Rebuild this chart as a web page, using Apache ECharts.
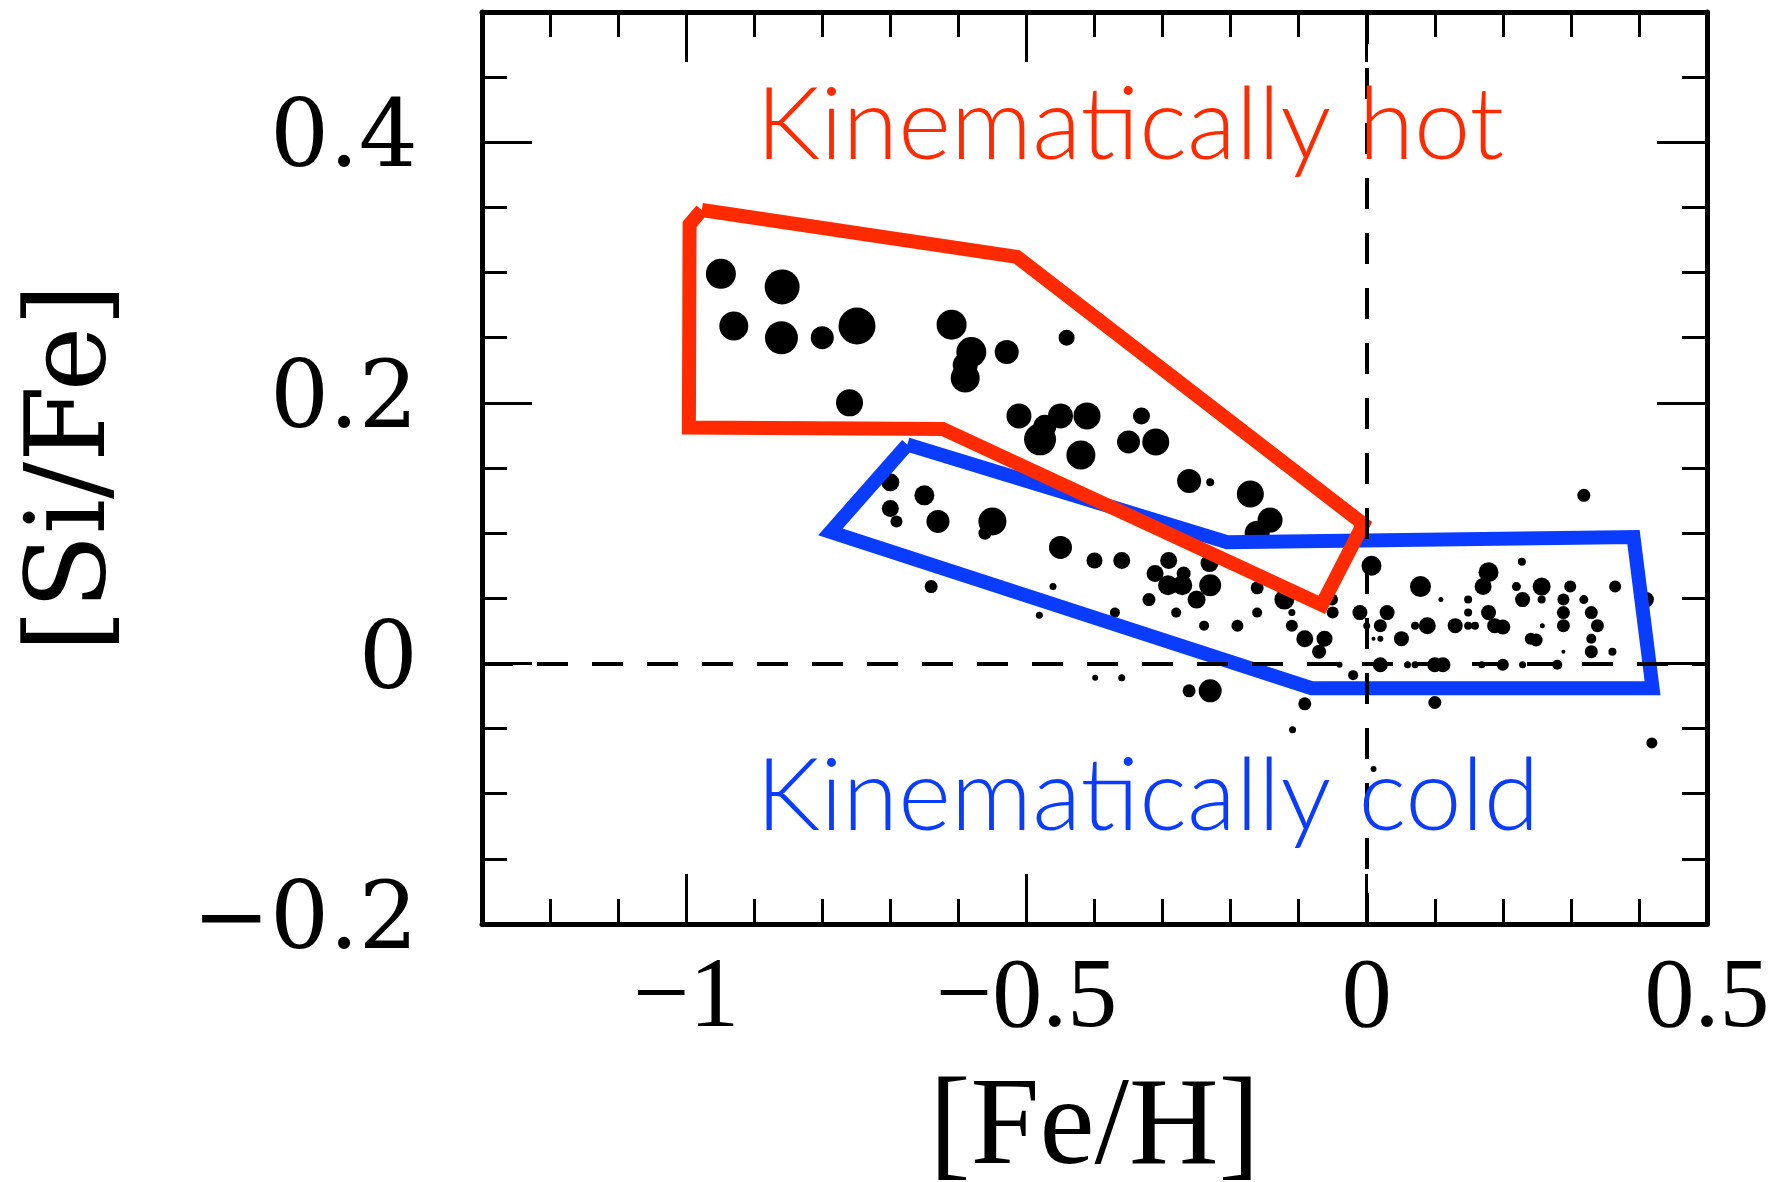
<!DOCTYPE html>
<html>
<head>
<meta charset="utf-8">
<script src="https://cdn.jsdelivr.net/npm/echarts@6/dist/echarts.min.js"></script>
<style>
html,body{margin:0;padding:0;background:#fff;}
#chart{width:1790px;height:1182px;}
</style>
</head>
<body>
<div id="chart"></div>
<script>
// ---- data ----
const feH = [
 -0.949,-0.859,-0.930,-0.860,-0.800,-0.749,-0.610,-0.581,-0.590,-0.590,-0.529,-0.760,-0.511,-0.441,-0.450,-0.480,-0.473,-0.411,-0.420,-0.331,-0.350,-0.310,-0.261,-0.230,-0.171,-0.142,-0.161,
 -0.700,-0.650,-0.700,-0.691,-0.630,-0.550,-0.561,-0.640,-0.450,-0.400,-0.360,-0.291,-0.231,-0.311,-0.269,-0.292,-0.271,-0.230,-0.250,-0.320,-0.280,-0.239,-0.190,-0.461,-0.481,-0.370,-0.161,-0.161,-0.121,-0.110,-0.110,-0.091,-0.062,-0.070,-0.050,-0.051,-0.399,-0.360,-0.261,-0.230,-0.091,-0.109,
 0.007,0.228,0.179,0.171,0.079,0.257,0.220,0.299,0.365,0.411,0.229,0.257,0.289,0.319,0.109,0.149,-0.010,0.030,0.149,0.179,0.289,0.330,0.000,0.020,0.071,0.089,0.130,0.149,0.159,0.188,0.200,0.258,0.289,0.339,0.010,0.020,0.051,0.241,0.249,0.330,0.289,0.330,0.361,-0.040,0.020,0.060,0.071,0.100,0.112,0.169,0.200,0.229,0.280,-0.020,0.100,0.419,0.010,0.319
];
const siFe = [
 0.299,0.289,0.259,0.250,0.250,0.259,0.260,0.239,0.229,0.219,0.239,0.200,0.190,0.250,0.190,0.172,0.182,0.190,0.160,0.190,0.170,0.170,0.140,0.139,0.130,0.110,0.100,
 0.139,0.129,0.119,0.109,0.109,0.109,0.100,0.059,0.089,0.079,0.079,0.079,0.077,0.069,0.069,0.060,0.060,0.060,0.049,0.049,0.039,0.029,0.029,0.059,0.037,0.039,0.058,0.039,0.049,0.039,0.029,0.019,0.019,0.009,0.039,0.049,-0.011,-0.011,-0.021,-0.021,-0.031,-0.051,
 0.075,0.078,0.070,0.059,0.059,0.059,0.059,0.059,0.059,0.049,0.049,0.049,0.049,0.049,0.049,0.049,0.039,0.039,0.039,0.039,0.039,0.039,0.029,0.029,0.029,0.029,0.029,0.029,0.029,0.029,0.028,0.029,0.029,0.029,0.019,0.019,0.019,0.019,0.018,0.019,0.009,0.009,0.009,-0.001,-0.001,-0.001,-0.001,-0.001,-0.001,-0.001,-0.001,-0.001,-0.001,-0.009,-0.030,-0.061,-0.081,0.129
];
const dotSize = [
 30,35,29,33,23,37,30,30,25,29,24,27,25,16,25,32,23,27,29,17,23,27,24,8,27,25,25,
 18,20,17,12,23,28,13,13,23,16,17,17,18,17,14,20,20,22,18,13,10,10,12,7,7,10,13,10,20,7,12,17,16,14,12,12,6,7,13,23,13,7,
 20,8,20,17,21,18,9,12,12,15,15,8,12,9,5,8,15,15,8,15,13,13,7,13,8,17,15,8,8,15,15,5,13,13,4,6,15,12,13,10,4,13,8,6,15,7,7,15,15,7,12,7,10,10,13,11,6,13
];
// region outlines
const hotFeH  = [-0.977,-0.514,-0.005,-0.066,-0.623,-0.996,-0.995,-0.977];
const hotSiFe = [ 0.348, 0.312, 0.107, 0.045, 0.180, 0.181, 0.337, 0.348];
const coldFeH  = [-0.675,-0.205,0.392, 0.420,-0.081,-0.788,-0.675];
const coldSiFe = [ 0.168, 0.093,0.097,-0.019,-0.019, 0.101, 0.168];
// axes
const xMajorTicks = [-1,-0.5,0,0.5];
const yMajorTicks = [-0.2,0,0.2,0.4];
const xTitle = '[Fe/H]';
const yTitle = '[Si/Fe]';
const hotLabel = 'Kinematically hot';
const coldLabel = 'Kinematically cold';

const RED = '#ff2a00', BLUE = '#0a3cff';
const fmt = v => (v < 0 ? '\u2212' : '') + String(Math.abs(Math.round(v*10)/10));

const points = feH.map((x,i)=>[x, siFe[i], dotSize[i]]);
const hotPoly = hotFeH.map((x,i)=>[x, hotSiFe[i]]);
const coldPoly = coldFeH.map((x,i)=>[x, coldSiFe[i]]);

const tickStyle = {color:'#000', width:3};
function xAx(pos, major, withName){
  const a = {
    type:'value', min:-1.3, max:0.5, position:pos, gridIndex:0,
    splitLine:{show:false},
    axisLine:{show:major, onZero:false, lineStyle:{color:'#000', width:5}},
    axisTick:{show:true, inside:true, length: major?50:25, lineStyle:tickStyle},
    axisLabel:{show:false}
  };
  if (major){
    a.axisTick.customValues = xMajorTicks;
    a.axisLabel = {show: pos==='bottom', customValues:xMajorTicks, formatter:fmt, margin:26,
      color:'#000', fontFamily:'Liberation Serif', fontSize:100};
  } else {
    a.interval = 0.1;
  }
  if (withName){
    a.name = xTitle; a.nameLocation='middle'; a.nameGap=144;
    a.nameTextStyle = {fontFamily:'Liberation Serif', fontSize:124, color:'#000'};
  }
  return a;
}
function yAx(pos, major, withName){
  const a = {
    type:'value', min:-0.2, max:0.5, position:pos, gridIndex:0,
    splitLine:{show:false},
    axisLine:{show:major, onZero:false, lineStyle:{color:'#000', width:5}},
    axisTick:{show:true, inside:true, length: major?50:25, lineStyle:tickStyle},
    axisLabel:{show:false}
  };
  if (major){
    a.axisTick.customValues = yMajorTicks;
    a.axisLabel = {show: pos==='left', customValues:yMajorTicks, formatter:fmt, margin:64,
      color:'#000', fontFamily:'DejaVu Serif', fontSize:93};
  } else {
    a.interval = 0.05;
  }
  if (withName){
    a.name = yTitle; a.nameLocation='middle'; a.nameGap=352; a.nameRotate=90;
    a.nameTextStyle = {fontFamily:'DejaVu Serif', fontSize:110, color:'#000'};
  }
  return a;
}

const chart = echarts.init(document.getElementById('chart'), null, {renderer:'canvas'});
chart.setOption({
  backgroundColor:'#fff',
  animation:false,
  grid:{left:482, right:83, top:12, bottom:258, outerBoundsMode:'none', containLabel:false},
  xAxis:[xAx('bottom',false,false), xAx('bottom',true,true), xAx('top',false,false), xAx('top',true,false)],
  yAxis:[yAx('left',false,false), yAx('left',true,true), yAx('right',false,false), yAx('right',true,false)],
  series:[
    {
      type:'scatter', xAxisIndex:0, yAxisIndex:0, z:2,
      data: points,
      symbol:'circle',
      symbolSize: d => d[2],
      itemStyle:{color:'#000', opacity:1},
      emphasis:{disabled:true},
      markLine:{
        silent:true, symbol:['none','none'], label:{show:false},
        lineStyle:{color:'#000', width:4, type:[31,24], opacity:1},
        emphasis:{disabled:true},
        data:[{xAxis:0},{yAxis:0}]
      }
    },
    {
      type:'line', xAxisIndex:0, yAxisIndex:0, z:3,
      data: coldPoly, symbol:'none', smooth:false,
      lineStyle:{color:BLUE, width:14, join:'miter'}
    },
    {
      type:'line', xAxisIndex:0, yAxisIndex:0, z:4,
      data: hotPoly, symbol:'none', smooth:false,
      lineStyle:{color:RED, width:14, join:'miter'}
    }
  ],
  graphic:[
    {type:'text', x:756, y:126, z:10, style:{text:hotLabel, fill:RED, font:'300 101px Lato', textAlign:'left', textVerticalAlign:'middle', verticalAlign:'middle'}},
    {type:'text', x:756, y:797, z:10, style:{text:coldLabel, fill:BLUE, font:'300 101px Lato', textAlign:'left', textVerticalAlign:'middle', verticalAlign:'middle'}}
  ]
});
</script>
</body>
</html>
